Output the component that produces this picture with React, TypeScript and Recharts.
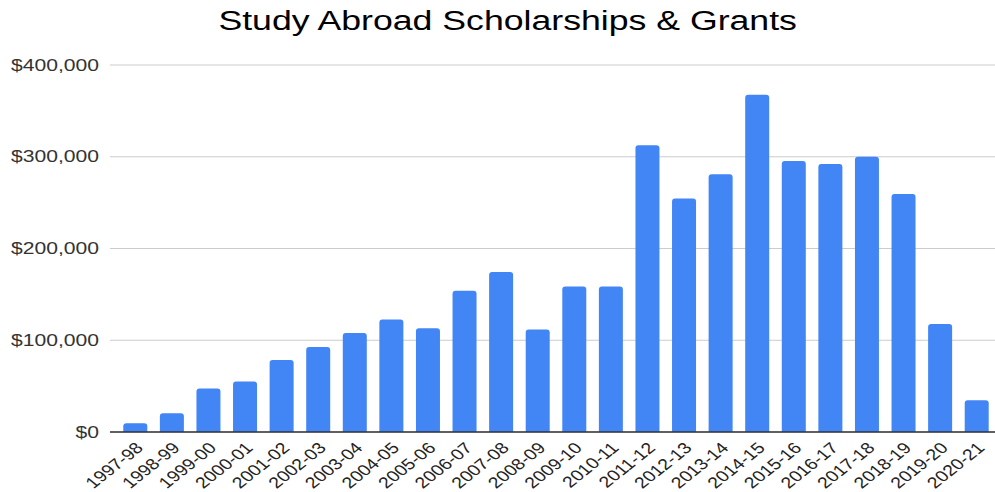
import React from "react";
import { BarChart, Bar, XAxis, YAxis, CartesianGrid } from "recharts";

const years = [
  "1997-98", "1998-99", "1999-00", "2000-01", "2001-02", "2002-03",
  "2003-04", "2004-05", "2005-06", "2006-07", "2007-08", "2008-09",
  "2009-10", "2010-11", "2011-12", "2012-13", "2013-14", "2014-15",
  "2015-16", "2016-17", "2017-18", "2018-19", "2019-20", "2020-21",
];

const amounts = [
  9500, 20400, 47300, 55000, 78500, 92700,
  108000, 122600, 113000, 154000, 174500, 111700,
  158600, 158600, 312400, 254600, 281000, 367600,
  295300, 292000, 300000, 259300, 117800, 34600,
];

const yTicks = [0, 100000, 200000, 300000, 400000];

const data = years.map((year, i) => ({ year, amount: amounts[i] }));

const fmtMoney = (v: number) => "$" + v.toLocaleString("en-US");

// the original image is stretched sideways, so text gets the same stretch
const SX = 1.32;
const FONT = "Liberation Sans, Arial, sans-serif";

function YearTick({ x, y, payload }: any) {
  return (
    <g transform={`translate(${x + 9},${y + 9}) scale(1.26,1) rotate(-45)`}>
      <text textAnchor="end" fontSize={15.5} fill="#222" fontFamily={FONT}>
        {payload.value}
      </text>
    </g>
  );
}

function MoneyTick({ x, y, payload }: any) {
  return (
    <g transform={`translate(${x},${y}) scale(${SX},1)`}>
      <text textAnchor="end" dy="0.355em" fontSize={16} fill="#333" fontFamily={FONT}>
        {fmtMoney(payload.value)}
      </text>
    </g>
  );
}

export default function App() {
  return (
    <div style={{ position: "absolute", left: 0, top: 0, width: 995, height: 492, background: "#fff", fontFamily: FONT, overflow: "hidden" }}>
      <div
        style={{
          position: "absolute",
          left: 0,
          top: 6,
          width: 1015,
          textAlign: "center",
          fontSize: 27,
          color: "#000",
          transform: `scaleX(${SX})`,
          transformOrigin: "507px 0",
          whiteSpace: "nowrap",
        }}
      >
        Study Abroad Scholarships &amp; Grants
      </div>
      <BarChart
        width={995}
        height={492}
        data={data}
        margin={{ top: 65, right: 0, bottom: 0, left: 0 }}
        barCategoryGap="17.2%"
      >
        <CartesianGrid vertical={false} stroke="#cccccc" />
        <XAxis
          dataKey="year"
          interval={0}
          height={60}
          padding={{ left: 7, right: 0 }}
          tickLine={false}
          axisLine={{ stroke: "#333", strokeWidth: 1.5 }}
          tick={<YearTick />}
        />
        <YAxis
          width={110}
          domain={[0, 400000]}
          ticks={yTicks}
          axisLine={false}
          tickLine={false}
          tickMargin={5}
          tick={<MoneyTick />}
        />
        <Bar dataKey="amount" fill="#4285f4" radius={[3, 3, 0, 0]} isAnimationActive={false} />
      </BarChart>
    </div>
  );
}
